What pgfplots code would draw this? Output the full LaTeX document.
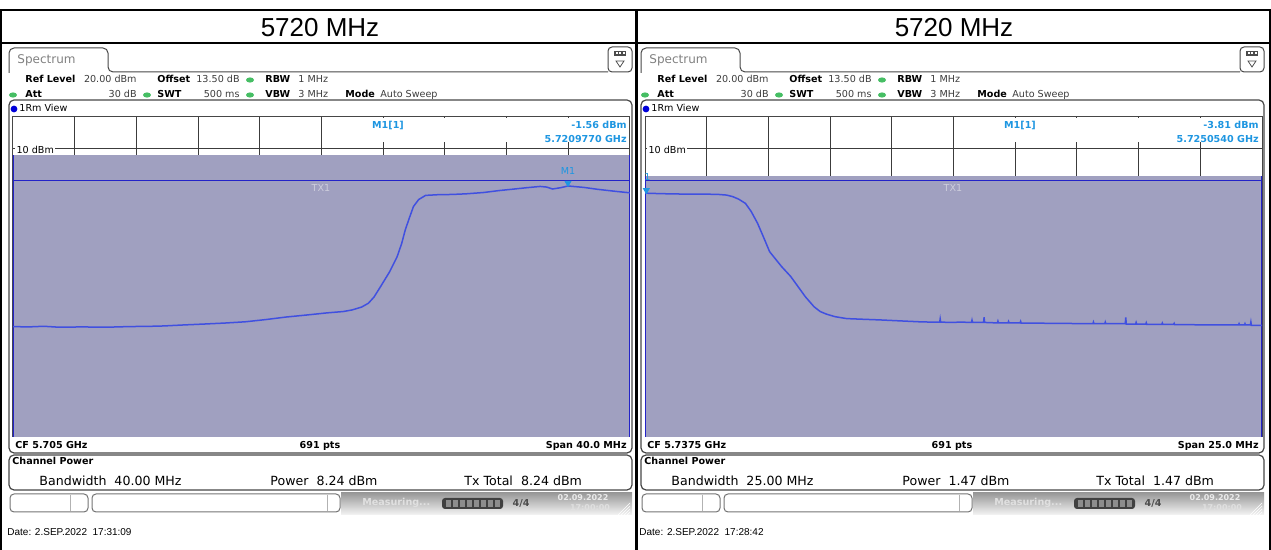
\documentclass[border=0pt]{standalone}
\usepackage{pgfplots}
\pgfplotsset{compat=1.18}
\usepackage{fontspec}
\setmainfont{DejaVu Sans}
\newfontfamily\arial{Liberation Sans}

\definecolor{shadec}{RGB}{160,160,192}
\definecolor{tracec}{RGB}{64,80,224}
\definecolor{refc}{RGB}{35,35,200}
\definecolor{mkc}{RGB}{30,150,225}
\definecolor{txc}{RGB}{205,205,220}
\definecolor{gridc}{RGB}{60,60,60}
\definecolor{framec}{RGB}{70,70,70}
\definecolor{tabc}{RGB}{128,128,128}
\definecolor{ledc}{RGB}{70,190,100}
\definecolor{valc}{RGB}{60,60,60}

\newcommand\sm{\fontsize{4.8}{5.6}\selectfont}
\newcommand\md{\fontsize{6.3}{7.5}\selectfont}

% x: MHz from the centre frequency, y: dBm
\pgfplotstableread{
x y
-20.00 -45.5
-19.00 -45.6
-18.00 -45.4
-17.00 -45.7
-15.54 -45.6
-14.00 -45.7
-12.50 -45.5
-11.00 -45.4
-10.23 -45.3
-9.00 -45.0
-7.60 -44.7
-6.30 -44.4
-4.94 -44.0
-3.60 -43.3
-2.27 -42.5
-1.00 -41.9
0.39 -41.2
1.40 -40.8
1.98 -40.3
2.60 -39.4
3.04 -38.2
3.40 -36.3
3.83 -33.0
4.40 -28.5
4.90 -23.7
5.20 -19.5
5.43 -15.3
5.70 -11.5
5.96 -8.0
6.30 -5.8
6.75 -4.5
7.50 -4.3
8.50 -4.2
9.41 -4.0
10.50 -3.6
11.50 -3.0
12.32 -2.6
13.30 -2.1
14.18 -1.7
14.60 -1.9
14.98 -2.5
15.50 -2.1
15.98 -1.56
17.00 -2.0
17.90 -2.6
19.00 -3.2
20.00 -3.7
}\traceA

\pgfplotstableread{
x y
-12.50 -3.80
-11.90 -3.95
-11.22 -4.06
-10.50 -4.10
-9.59 -4.16
-9.20 -4.40
-8.94 -4.90
-8.70 -5.70
-8.43 -7.00
-8.20 -9.50
-7.94 -13.2
-7.70 -17.5
-7.45 -22.1
-6.96 -26.8
-6.60 -29.8
-6.30 -33.0
-6.00 -36.2
-5.65 -39.3
-5.40 -40.8
-5.15 -41.6
-4.80 -42.4
-4.33 -43.0
-3.70 -43.2
-3.02 -43.4
-2.20 -43.7
-1.38 -44.0
-0.90 -44.1
-0.56 -44.1
-0.54 -43.1
-0.52 -44.1
-0.10 -44.2
0.30 -44.1
0.73 -44.2
0.75 -43.5
0.77 -44.2
1.22 -44.2
1.24 -42.6
1.26 -44.2
1.60 -44.3
1.78 -44.3
1.80 -43.8
1.82 -44.3
2.21 -44.3
2.23 -43.9
2.25 -44.3
2.70 -44.3
2.72 -43.9
2.74 -44.4
3.30 -44.4
4.00 -44.5
4.60 -44.5
5.20 -44.6
5.65 -44.6
5.67 -44.1
5.69 -44.6
6.13 -44.6
6.15 -44.1
6.17 -44.6
6.96 -44.6
6.98 -42.6
7.00 -44.7
7.38 -44.7
7.40 -44.2
7.42 -44.7
7.79 -44.7
7.81 -44.3
7.83 -44.8
8.44 -44.8
8.46 -44.4
8.48 -44.8
8.92 -44.8
8.94 -44.5
8.96 -44.9
9.60 -44.9
10.30 -45.0
11.00 -45.0
11.55 -45.0
11.57 -44.6
11.59 -45.0
11.79 -45.0
11.81 -44.6
11.83 -45.0
12.03 -45.0
12.05 -44.1
12.07 -45.1
12.50 -45.1
}\traceB

\pgfplotsset{scr/.style={
  anchor=south west, scale only axis, width=308.5pt, height=160pt,
  ymin=-80, ymax=20, ytick={-70,-60,...,10},
  xticklabels={}, yticklabels={}, major tick length=0pt,
  grid=major, grid style={gridc, line width=0.5pt},
  axis line style={framec, line width=0.5pt},
}}

% screen furniture in pixel units: #1 CF, #2 span, #3 bandwidth, #4 power, #5 date
\newcommand\screen[5]{%
  \draw[framec, line width=0.5pt, rounded corners=2.5pt] (9,73) -- (9,48) -- (108,48) -- (108,72) -- (608,72);
  \node[anchor=west, inner sep=0, text=tabc] at (17,60) {\fontsize{6}{7}\selectfont Spectrum};
  \draw[framec, line width=0.5pt, rounded corners=2pt] (608,47) rectangle (632,72);
  \fill[black!70] (614,51) rectangle (626,56);
  \foreach \i in {0,1,2} {\fill[white] (615.5+\i*3.5,52.5) rectangle (617.5+\i*3.5,54.5);}
  \draw[black!70, line width=0.4pt] (616,61) -- (624,61) -- (620,67) -- cycle;
  \begin{scope}[every node/.style={inner sep=0}]
  \node[anchor=base west] at (25,83) {\sm\bfseries Ref Level};
  \node[anchor=base east, text=valc] at (137,83) {\sm 20.00 dBm};
  \node[anchor=base west] at (157,83) {\sm\bfseries Offset};
  \node[anchor=base east, text=valc] at (240,83) {\sm 13.50 dB};
  \fill[ledc] (250,80) ellipse (2pt and 1.3pt);
  \node[anchor=base west] at (265,83) {\sm\bfseries RBW};
  \node[anchor=base west, text=valc] at (298,83) {\sm 1 MHz};
  \fill[ledc] (13,95) ellipse (2pt and 1.3pt);
  \node[anchor=base west] at (25,98) {\sm\bfseries Att};
  \node[anchor=base east, text=valc] at (137,98) {\sm 30 dB};
  \fill[ledc] (147,95) ellipse (2pt and 1.3pt);
  \node[anchor=base west] at (157,98) {\sm\bfseries SWT};
  \node[anchor=base east, text=valc] at (240,98) {\sm 500 ms};
  \fill[ledc] (250,95) ellipse (2pt and 1.3pt);
  \node[anchor=base west] at (265,98) {\sm\bfseries VBW};
  \node[anchor=base west, text=valc] at (298,98) {\sm 3 MHz};
  \node[anchor=base west] at (345,98) {\sm\bfseries Mode};
  \node[anchor=base west, text=valc] at (380,98) {\sm Auto Sweep};
  \draw[framec, line width=0.6pt, rounded corners=2.5pt] (9,100) rectangle (632,453);
  \fill[blue!85!black] (14,109) circle (1.7pt);
  \node[anchor=base west] at (19,112) {\sm 1Rm View};
  \node[anchor=base west] at (15,449) {\sm\bfseries CF #1};
  \node[anchor=base] at (320,449) {\sm\bfseries 691 pts};
  \node[anchor=base east] at (627,449) {\sm\bfseries Span #2};
  \draw[framec, line width=0.6pt, rounded corners=2.5pt] (9,455) rectangle (632,490);
  \node[anchor=base west] at (12,465) {\sm\bfseries Channel Power};
  \node[anchor=base west] at (39,486) {\md Bandwidth\ \ #3};
  \node[anchor=base west] at (270,486) {\md Power\ \ #4};
  \node[anchor=base west] at (464,486) {\md Tx Total\ \ #4};
  \draw[black!55, line width=0.5pt, rounded corners=2pt] (10,494) rectangle (88,512);
  \draw[black!30, line width=0.4pt] (70,495) -- (70,511);
  \draw[black!55, line width=0.5pt, rounded corners=2pt] (92,494) rectangle (340,512);
  \draw[black!30, line width=0.4pt] (327,495) -- (327,511);
  \shade[top color=black!40, bottom color=black!4] (341,493) rectangle (632,515);
  \node[anchor=base west, text=black!12] at (362,506) {\sm\bfseries Measuring...};
  \fill[black!75, rounded corners=1.5pt] (442,498) rectangle (503,509);
  \foreach \i in {0,...,7} {\fill[black!45] (446+\i*7,500) rectangle (451+\i*7,507);}
  \node[text=black!70] at (521,503.5) {\sm\bfseries 4/4};
  \node[text=black!8] at (583,498) {\fontsize{4}{4}\selectfont\bfseries 02.09.2022};
  \node[text=black!12] at (590,508) {\fontsize{4}{4}\selectfont\bfseries 17:00:00};
  \foreach \i in {0,3,...,12} {\draw[white, line width=0.3pt] (618+\i,515) -- (630,503+\i);}
  \node[anchor=base west] at (7,536) {\arial\fontsize{5}{6}\selectfont #5};
  \end{scope}
}

% texts over the plot: #1 marker level, #2 marker frequency
\newcommand\overlay[2]{%
  \begin{scope}[every node/.style={inner sep=0}]
  \node[anchor=west, fill=white, inner sep=0.6pt] at (15,150) {\sm 10 dBm};
  \node[anchor=base, text=mkc] at (388,129) {\sm\bfseries M1[1]};
  \node[anchor=base east, text=mkc] at (627,129) {\sm\bfseries #1};
  \node[anchor=base east, text=mkc] at (627,143) {\sm\bfseries #2};
  \node[text=txc] at (321,188) {\sm TX1};
  \end{scope}
}

\begin{document}
\begin{tikzpicture}
% table frame and titles
\begin{scope}[x=0.5pt, y=-0.5pt]
\draw[black, line width=1pt] (1,560) -- (1,10.5) -- (1270,10.5) -- (1270,560);
\draw[black, line width=1pt] (1,43) -- (1270,43);
\draw[black, line width=1.2pt] (636.5,10.5) -- (636.5,560);
\node at (320,28) {\arial\fontsize{13}{15}\selectfont 5720 MHz};
\node at (954,28) {\arial\fontsize{13}{15}\selectfont 5720 MHz};
\screen{5.705 GHz}{40.0 MHz}{40.00 MHz}{8.24 dBm}{Date: 2.SEP.2022\ \ 17:31:09}
\end{scope}
\begin{scope}[shift={(316pt,0pt)}, x=0.5pt, y=-0.5pt]
\screen{5.7375 GHz}{25.0 MHz}{25.00 MHz}{1.47 dBm}{Date: 2.SEP.2022\ \ 17:28:42}
\end{scope}

\begin{axis}[scr, at={(6.5pt,-218.5pt)}, xmin=-20, xmax=20,
  xtick={-16,-12,-8,-4,0,4,8,12,16}]
\addplot[fill=shadec, draw=none] coordinates {(-20,-80) (-20,8.24) (20,8.24) (20,-80)} -- cycle;
\fill[white] (axis cs:0.08,12.2) rectangle (axis cs:19.9,19.75);
\addplot[refc, line width=0.5pt] coordinates {(-20,0) (20,0)};
\addplot[refc, line width=1.2pt] coordinates {(-20,-80) (-20,8.24)};
\addplot[refc, line width=1.2pt] coordinates {(20,-80) (20,8.24)};
\addplot[tracec, line width=0.75pt] table {\traceA};
\addplot[only marks, mark=triangle*, mark size=1.7pt, mkc,
  mark options={yshift=1.5pt, rotate=180},
  nodes near coords, point meta=explicit symbolic,
  every node near coord/.append style={font=\sm, text=mkc, anchor=center, yshift=6.2pt}]
  coordinates {(15.98,-1.56) [M1]};
\end{axis}

\begin{axis}[scr, at={(322.5pt,-218.5pt)}, xmin=-12.5, xmax=12.5,
  xtick={-10,-7.5,-5,-2.5,0,2.5,5,7.5,10}]
\addplot[fill=shadec, draw=none] coordinates {(-12.5,-80) (-12.5,1.47) (12.5,1.47) (12.5,-80)} -- cycle;
\fill[white] (axis cs:0.05,12.2) rectangle (axis cs:12.44,19.75);
\addplot[refc, line width=0.5pt] coordinates {(-12.5,0) (12.5,0)};
\addplot[refc, line width=1.2pt] coordinates {(-12.5,-80) (-12.5,1.47)};
\addplot[refc, line width=1.2pt] coordinates {(12.5,-80) (12.5,1.47)};
\addplot[tracec, line width=0.75pt] table {\traceB};
\addplot[only marks, mark=triangle*, mark size=1.7pt, mkc,
  mark options={yshift=1.5pt, rotate=180},
  nodes near coords, point meta=explicit symbolic,
  every node near coord/.append style={font=\sm, text=mkc, anchor=center, yshift=6.5pt, xshift=0.6pt}]
  coordinates {(-12.446,-3.81) [1]};
\end{axis}

\begin{scope}[x=0.5pt, y=-0.5pt]
\overlay{-1.56 dBm}{5.7209770 GHz}
\end{scope}
\begin{scope}[shift={(316pt,0pt)}, x=0.5pt, y=-0.5pt]
\overlay{-3.81 dBm}{5.7250540 GHz}
\end{scope}

\pgfresetboundingbox
\path[use as bounding box] (0pt,0pt) rectangle (635.5pt,-275pt);
\end{tikzpicture}
\end{document}
